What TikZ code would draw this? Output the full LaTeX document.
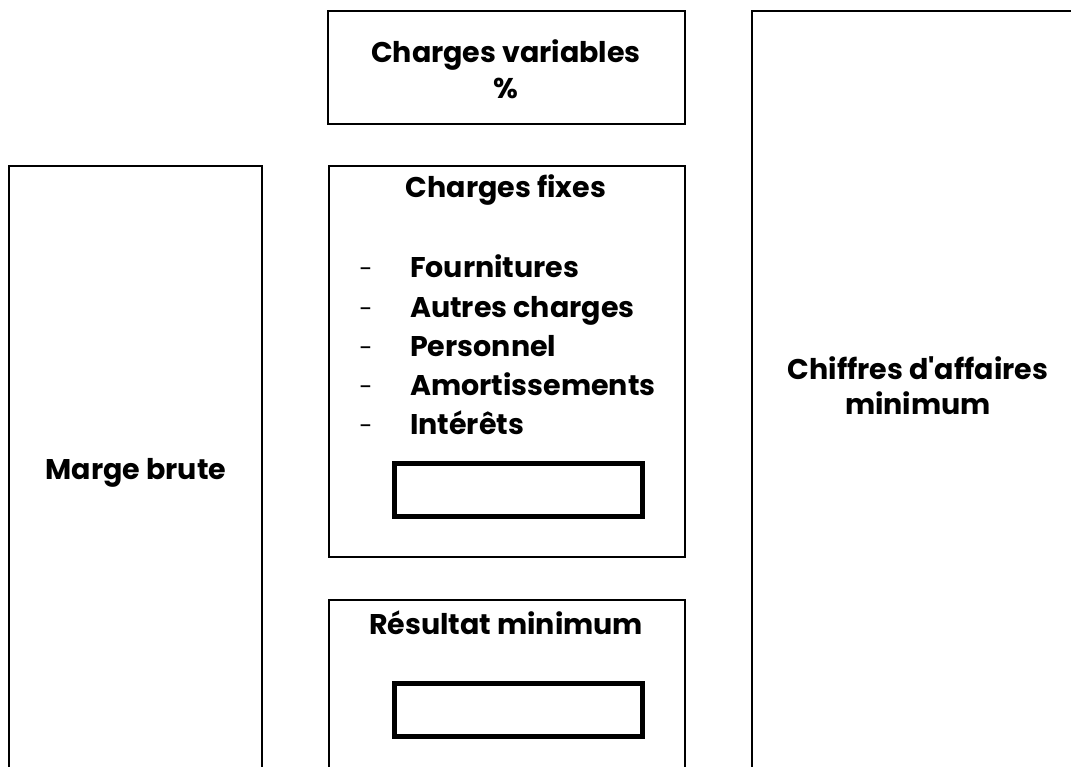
\documentclass[tikz,border=0pt]{standalone}
\usepackage{fontspec}
\setmainfont{Poppins}[BoldFont={Poppins Bold},Ligatures=TeXOff]
\begin{document}
\begin{tikzpicture}[x=1pt,y=-1pt,
  box/.style={draw=black,line width=2.6pt,fill=none},
  ansbox/.style={draw=black,line width=5pt,fill=none},
  lbl/.style={font=\bfseries\fontsize{28.5}{28.5}\selectfont,inner sep=0pt,text=black},
  dashlbl/.style={font=\mdseries\fontsize{24}{24}\selectfont,inner sep=0pt,text=black}]
\useasboundingbox (0,0) rectangle (1071,767);
\clip (0,0) rectangle (1071,767);
\fill[white] (0,0) rectangle (1071,767);
% boxes
\draw[box] (328,11) rectangle (685,124);
\draw[box] (9,166) rectangle (262,800);
\draw[box] (329,166) rectangle (685,557);
\draw[box] (329,600) rectangle (685,800);
\draw[box] (752,11) rectangle (1100,800);
\node[ansbox,minimum width=248pt,minimum height=53pt,inner sep=0pt] (ans1) at (518.5,490) {};
\node[ansbox,minimum width=248pt,minimum height=53pt,inner sep=0pt] (ans2) at (518.5,710) {};
% texts
\node[lbl,anchor=base] (cvt) at (506,63) {Charges variables};
\node[lbl,anchor=base] (cvp) at (506,99) {\%};
\node[lbl,anchor=base] (mb) at (136,479) {Marge brute};
\node[lbl,anchor=base] (ca1) at (918,379) {Chiffres d'affaires};
\node[lbl,anchor=base] (ca2) at (918,414) {minimum};
\node[lbl,anchor=base] (cf) at (506,198) {Charges fixes};
\node[lbl,anchor=base] (rm) at (506,634) {Résultat minimum};
\foreach \t/\y [count=\i] in {Fournitures/278,Autres charges/318,Personnel/356,Amortissements/395,Intérêts/434}{
  \node[lbl,anchor=base west] (it\i) at (410,\y) {\t};
  \node[dashlbl,anchor=base] (d\i) at (366,\y) {-};
}
\end{tikzpicture}
\end{document}
